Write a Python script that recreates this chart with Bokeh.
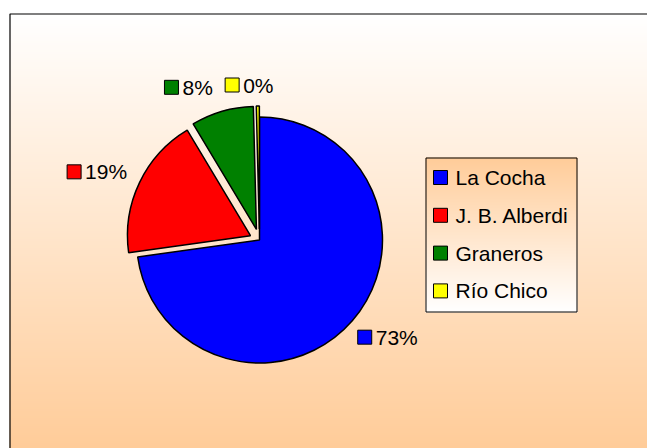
import numpy as np
from bokeh.plotting import figure
from bokeh.models import ColumnDataSource, Range1d
from bokeh.embed import file_html
from bokeh.resources import INLINE
from bokeh.core.properties import value

# ---- data ----
regions = ["La Cocha", "J. B. Alberdi", "Graneros", "Río Chico"]
shares = [72.8, 18.6, 8.2, 0.4]
colors = ["#0000FF", "#FF0000", "#008000", "#FFFF00"]

# ---- layout / style ----
W, H = 647, 448
FONT = "Liberation Sans"
FS = 21
CX, CY, R = 259, 208.5, 123
explode = np.array([0, 10, 11, 11])
label_gap = 17
label_nudge = [(0, 0), (0, 0), (-22, 0), (-8, -4)]

p = figure(width=W, height=H, x_range=Range1d(0, W), y_range=Range1d(0, H),
           output_backend="svg", toolbar_location=None, min_border=0,
           x_axis_location=None, y_axis_location=None)
p.grid.visible = False
p.outline_line_color = None
p.background_fill_color = "white"
p.border_fill_color = "white"


def gradient(n, bottom_rgb, top_rgb):
    t = np.linspace(0, 1, n)[:, None]
    b = np.array(bottom_rgb, dtype=float)
    tp = np.array(top_rgb, dtype=float)
    img = np.empty((n, 1), dtype=np.uint32)
    v = img.view(dtype=np.uint8).reshape((n, 1, 4))
    for k in range(3):
        v[:, :, k] = np.round(b[k] + (tp[k] - b[k]) * t).astype(np.uint8)
    v[:, :, 3] = 255
    return img


# chart area background (white at top -> peach at bottom)
frame_left, frame_top = 9, 435
p.image_rgba(image=[gradient(frame_top, (255, 204, 153), (255, 255, 255))],
             x=frame_left, y=0, dw=W - frame_left, dh=frame_top)
p.line(x=[frame_left + 0.5, frame_left + 0.5, W], y=[0, frame_top - 0.5, frame_top - 0.5],
       line_color="black", line_width=1.2)

# ---- pie ----
fr = np.array(shares) / sum(shares)
cum = np.concatenate([[0], np.cumsum(fr)])
a0, a1 = cum[:-1], cum[1:]
start = np.pi / 2 - 2 * np.pi * a1
end = np.pi / 2 - 2 * np.pi * a0
mid = np.pi / 2 - np.pi * (a0 + a1)
cx = CX + explode * np.cos(mid)
cy = CY + explode * np.sin(mid)

src = ColumnDataSource(dict(x=cx, y=cy, start=start, end=end, color=colors))
p.wedge(x="x", y="y", radius=R, start_angle="start", end_angle="end",
        direction="anticlock", fill_color="color", line_color="black",
        line_width=1.5, source=src)

# ---- data labels ----
ADV = {"%": 0.889}


def text_w(s):
    return sum(ADV.get(c, 0.556) for c in s) * FS


def pct(v):
    return f"{int(np.floor(v / sum(shares) * 100 + 0.5))}%"


labels = [pct(v) for v in shares]
sq_x, sq_y, tx, ty = [], [], [], []
for i, lab in enumerate(labels):
    dx, dy = np.cos(mid[i]), np.sin(mid[i])
    w = 18 + text_w(lab)
    h = 16
    rr = R + explode[i] + label_gap
    bx = CX + rr * dx + dx * w / 2 + label_nudge[i][0]
    by = CY + rr * dy + dy * h / 2 + label_nudge[i][1]
    left = bx - w / 2
    sq_x.append(left + 7)
    sq_y.append(by)
    tx.append(left + 18)
    ty.append(by)

p.rect(x=sq_x, y=sq_y, width=14, height=14, fill_color=colors,
       line_color="black", line_width=1)
p.text(x=tx, y=ty, text=labels, text_font=value(FONT), text_font_size=f"{FS}px",
       text_baseline="middle", text_align="left", text_color="black")

# ---- legend ----
LL, LR, LT, LB = 425, 577, 291, 136
p.image_rgba(image=[gradient(LT - LB, (255, 255, 255), (255, 204, 153))],
             x=LL, y=LB, dw=LR - LL, dh=LT - LB)
p.quad(left=LL + 0.5, right=LR - 0.5, top=LT - 0.5, bottom=LB + 0.5,
       fill_color=None, line_color="black", line_width=1)
ey = [LT - 20 - i * 37.8 for i in range(len(regions))]
p.rect(x=[LL + 15] * len(regions), y=ey, width=14, height=14, fill_color=colors,
       line_color="black", line_width=1)
p.text(x=[LL + 30] * len(regions), y=ey, text=regions, text_font=value(FONT),
       text_font_size=f"{FS}px", text_baseline="middle", text_align="left",
       text_color="black")

open("out.html", "w").write(file_html(p, INLINE))
